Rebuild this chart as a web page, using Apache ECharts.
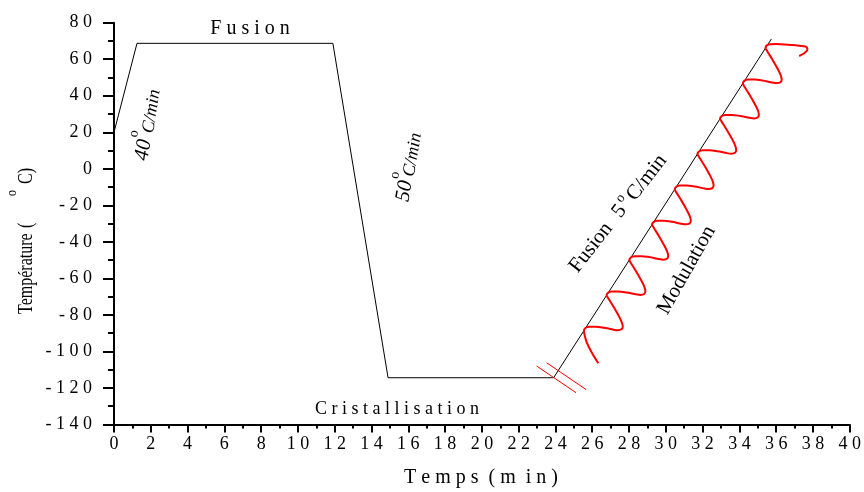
<!DOCTYPE html>
<html><head><meta charset="utf-8">
<script src="https://cdn.jsdelivr.net/npm/echarts@6/dist/echarts.min.js"></script>
<style>html,body{margin:0;padding:0;background:#fff}#c{width:864px;height:492px}</style>
</head><body><div id="c"></div>
<script>
// ---- data ----
const profileTime = [0, 1.25, 11.9, 14.9, 23.9, 35.74];
const profileTemp = [20, 68.7, 68.7, -114.4, -114.4, 71.1];

// red modulated heating curve, point by point
const modTime = [
  26.33, 25.95, 25.69, 25.58,
  25.55, 25.63, 25.82, 26.20, 26.64, 27.07, 27.40, 27.59, 27.66, 27.59, 27.40, 27.15, 26.93, 26.82,
  26.78, 26.86, 27.05, 27.43, 27.87, 28.30, 28.63, 28.82, 28.89, 28.82, 28.63, 28.38, 28.16, 28.05,
  28.02, 28.10, 28.29, 28.67, 29.11, 29.54, 29.87, 30.06, 30.13, 30.06, 29.87, 29.62, 29.40, 29.29,
  29.25, 29.33, 29.52, 29.90, 30.34, 30.77, 31.10, 31.29, 31.36, 31.29, 31.10, 30.85, 30.63, 30.52,
  30.49, 30.57, 30.76, 31.14, 31.58, 32.01, 32.34, 32.53, 32.60, 32.53, 32.34, 32.09, 31.87, 31.76,
  31.72, 31.80, 31.99, 32.37, 32.81, 33.24, 33.57, 33.76, 33.83, 33.76, 33.57, 33.32, 33.10, 32.99,
  32.95, 33.03, 33.22, 33.60, 34.04, 34.47, 34.80, 34.99, 35.06, 34.99, 34.80, 34.55, 34.33, 34.22,
  34.19, 34.27, 34.46, 34.84, 35.28, 35.71, 36.04, 36.23, 36.30, 36.23, 36.04, 35.79, 35.57, 35.46,
  35.42, 35.52, 35.98, 36.88, 37.25, 37.61, 37.70, 37.52, 37.25];
const modTemp = [
  -106.5, -100.2, -94.7, -90.8,
  -88.55, -87.18, -86.47, -86.47, -87.02, -87.89, -88.39, -87.89, -86.36, -83.62, -79.79, -75.41, -71.85, -70.04,
  -69.22, -67.85, -67.14, -67.14, -67.69, -68.56, -69.06, -68.56, -67.03, -64.29, -60.46, -56.08, -52.52, -50.71,
  -49.89, -48.52, -47.81, -47.81, -48.36, -49.23, -49.73, -49.23, -47.70, -44.96, -41.13, -36.75, -33.19, -31.38,
  -30.56, -29.19, -28.48, -28.48, -29.03, -29.90, -30.40, -29.90, -28.37, -25.63, -21.80, -17.42, -13.86, -12.05,
  -11.23, -9.86, -9.15, -9.15, -9.70, -10.57, -11.07, -10.57, -9.04, -6.30, -2.47, 1.91, 5.47, 7.28,
  8.10, 9.47, 10.18, 10.18, 9.63, 8.76, 8.26, 8.76, 10.29, 13.03, 16.86, 21.24, 24.80, 26.61,
  27.43, 28.80, 29.51, 29.51, 28.96, 28.09, 27.59, 28.09, 29.62, 32.36, 36.19, 40.57, 44.13, 45.94,
  46.76, 48.13, 48.84, 48.84, 48.29, 47.42, 46.92, 47.42, 48.95, 51.69, 55.52, 59.90, 63.46, 65.27,
  66.09, 67.79, 68.34, 67.79, 67.40, 66.86, 65.43, 63.24, 61.76];

const breakTimeA = [22.98, 25.12];
const breakTempA = [-108.0, -122.6];
const breakTimeB = [23.52, 25.66];
const breakTempB = [-106.2, -120.8];

const xMin = 0, xMax = 40, xStep = 2;
const yMin = -140, yMax = 80, yStep = 20;

// ---- chart ----
const zip = (a, b) => a.map((v, i) => [v, b[i]]);
const serif = '"Liberation Serif", "Times New Roman", serif';
const spaced = s => String(s).split('').join(' ');
const deg = d => d * Math.PI / 180;

function T(text, x, y, size, extra) {
  return {
    type: 'text', x: x, y: y, silent: true,
    style: Object.assign({
      text: text, fontSize: size, fontFamily: serif, fill: '#000',
      align: 'center', verticalAlign: 'middle'
    }, extra || {})
  };
}

const chart = echarts.init(document.getElementById('c'), null, {renderer: 'canvas'});

const labelBase = {color: '#000', fontFamily: serif, fontSize: 18, formatter: v => spaced(v)};

chart.setOption({
  animation: false,
  backgroundColor: '#fff',
  grid: {left: 114, right: 13, top: 22.7, bottom: 67.5, containLabel: false},
  xAxis: {
    type: 'value', min: xMin, max: xMax, interval: xStep,
    axisLine: {show: true, onZero: false, lineStyle: {color: '#000', width: 2}},
    splitLine: {show: false},
    axisTick: {show: true, length: 8, lineStyle: {color: '#000', width: 2}},
    minorTick: {show: true, splitNumber: 2, length: 4, lineStyle: {color: '#000', width: 2}},
    axisLabel: Object.assign({}, labelBase, {margin: 11})
  },
  yAxis: {
    type: 'value', min: yMin, max: yMax, interval: yStep,
    axisLine: {show: true, onZero: false, lineStyle: {color: '#000', width: 2}},
    splitLine: {show: false},
    axisTick: {show: true, length: 11, lineStyle: {color: '#000', width: 2}},
    minorTick: {show: true, splitNumber: 2, length: 6, lineStyle: {color: '#000', width: 2}},
    axisLabel: Object.assign({}, labelBase, {margin: 22})
  },
  series: [
    {type: 'line', data: zip(profileTime, profileTemp), symbol: 'none',
     lineStyle: {color: '#000', width: 1}, silent: true, z: 2},
    {type: 'line', data: zip(modTime, modTemp), symbol: 'none', smooth: 0.35,
     lineStyle: {color: '#ff0000', width: 2}, silent: true, z: 3},
    {type: 'line', data: zip(breakTimeA, breakTempA), symbol: 'none',
     lineStyle: {color: '#ff0000', width: 1}, silent: true, z: 3},
    {type: 'line', data: zip(breakTimeB, breakTempB), symbol: 'none',
     lineStyle: {color: '#ff0000', width: 1}, silent: true, z: 3}
  ],
  graphic: [
    T('F u s i o n', 250, 29, 20),
    T('C r i s t a l l i s a t i o n', 397, 409, 18),
    T('T e m p s  ( m  i n )', 481, 478, 20),
    {type: 'group', x: 27, y: 237, rotation: deg(90), scaleY: 1.3, children: [
      T('Température', -77, 0, 16, {align: 'left'}),
      T('(', 9, 0, 16, {align: 'left'}),
      T('o', 44, -12, 12),
      T('C)', 53, 0, 16, {align: 'left'})
    ]},
    {type: 'group', x: 143.5, y: 150, rotation: deg(81), children: [
      T('40', 0, 0, 21, {fontStyle: 'italic'}),
      T('o', 14.5, -12, 14),
      T('C/min', 17.5, 2, 18, {align: 'left', fontStyle: 'italic'})
    ]},
    {type: 'group', x: 404.5, y: 191, rotation: deg(80.4), children: [
      T('50', 0, 0, 21, {fontStyle: 'italic'}),
      T('o', 14, -12, 14),
      T('C/min', 15, 2, 18, {align: 'left', fontStyle: 'italic'})
    ]},
    {type: 'group', x: 591, y: 247.5, rotation: deg(52), children: [
      T('Fusion', 0, 0, 21),
      T('5', 46, 0, 21),
      T('o', 57, -7, 14),
      T('C/min', 63, 1, 21, {align: 'left'})
    ]},
    {type: 'group', x: 686.5, y: 270, rotation: deg(60.6), children: [
      T('Modulation', 0, 0, 21)
    ]}
  ]
});
</script>
</body></html>
